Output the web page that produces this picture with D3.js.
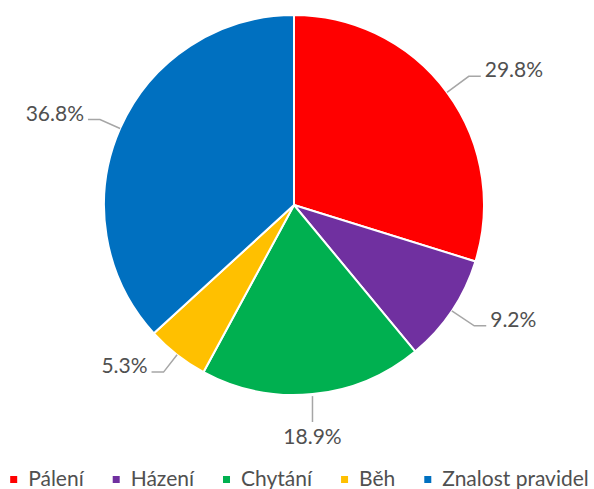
<!DOCTYPE html>
<html>
<head>
<meta charset="utf-8">
<script src="https://cdn.jsdelivr.net/npm/d3@7"></script>
<style>
  body { margin: 0; background: #fff; }
  text { font-family: Lato, "Noto Sans", sans-serif; fill: #505050; }
</style>
</head>
<body>
<svg id="chart"></svg>
<script>
// Data
var categories = ["Pálení", "Házení", "Chytání", "Běh", "Znalost pravidel"];
var shares = [29.8, 9.2, 18.9, 5.3, 36.8];
var colors = ["#FF0000", "#7030A0", "#00B050", "#FFC000", "#0070C0"];

var width = 594, height = 489;
var cx = 294, cy = 205, radius = 190;

var svg = d3.select("#chart")
    .attr("width", width)
    .attr("height", height);

var data = categories.map(function (c, i) {
    return { name: c, value: shares[i], color: colors[i] };
});

var pie = d3.pie()
    .sort(null)
    .value(function (d) { return d.value; });

var arc = d3.arc()
    .innerRadius(0)
    .outerRadius(radius);

var g = svg.append("g")
    .attr("transform", "translate(" + cx + "," + cy + ")");

var arcs = pie(data);

g.selectAll("path.slice")
    .data(arcs)
    .enter()
    .append("path")
    .attr("class", "slice")
    .attr("d", arc)
    .attr("fill", function (d) { return d.data.color; })
    .attr("stroke", "#fff")
    .attr("stroke-width", 2);

// Labels with leader lines
var fmt = function (v) { return v.toFixed(1) + "%"; };

arcs.forEach(function (d) {
    var a = (d.startAngle + d.endAngle) / 2;
    var sx = radius * Math.sin(a), sy = -radius * Math.cos(a);
    var label = g.append("text")
        .attr("font-size", 21)
        .text(fmt(d.data.value));

    if (Math.abs(Math.sin(a)) < 0.2) {
        // label straight below the slice
        var ey = radius + 27;
        g.append("path")
            .attr("d", "M" + sx + "," + (sy + 2) + "L" + sx + "," + ey)
            .attr("fill", "none")
            .attr("stroke", "#A6A6A6")
            .attr("stroke-width", 1.5);
        label.attr("x", sx)
            .attr("y", ey + 22)
            .attr("text-anchor", "middle");
    } else {
        var side = sx > 0 ? 1 : -1;
        var elbowR = side > 0 ? radius + 27 : radius + 22;
        var ex = elbowR * Math.sin(a), ey2 = -elbowR * Math.cos(a);
        var hx = ex + side * 12;
        g.append("path")
            .attr("d", "M" + sx + "," + sy + "L" + ex + "," + ey2 + "L" + hx + "," + ey2)
            .attr("fill", "none")
            .attr("stroke", "#A6A6A6")
            .attr("stroke-width", 1.5);
        label.attr("x", hx + side * 4)
            .attr("y", ey2 + 1)
            .attr("text-anchor", side > 0 ? "start" : "end");
    }
});

// Legend at the bottom
var legend = svg.append("g");
var items = legend.selectAll("g.item")
    .data(data)
    .enter()
    .append("g")
    .attr("class", "item");

items.append("rect")
    .attr("width", 7)
    .attr("height", 7)
    .attr("y", 476)
    .attr("fill", function (d) { return d.color; });

items.append("text")
    .attr("x", 18)
    .attr("y", 486)
    .attr("font-size", 21)
    .text(function (d) { return d.name; });

var xpos = 0;
items.each(function () {
    var w = d3.select(this).select("text").node().getComputedTextLength();
    d3.select(this).attr("transform", "translate(" + xpos + ",0)");
    xpos += 18 + w + 29;
});
var total = xpos - 29;
legend.attr("transform", "translate(" + (299.5 - total / 2) + ",0)");
</script>
</body>
</html>
